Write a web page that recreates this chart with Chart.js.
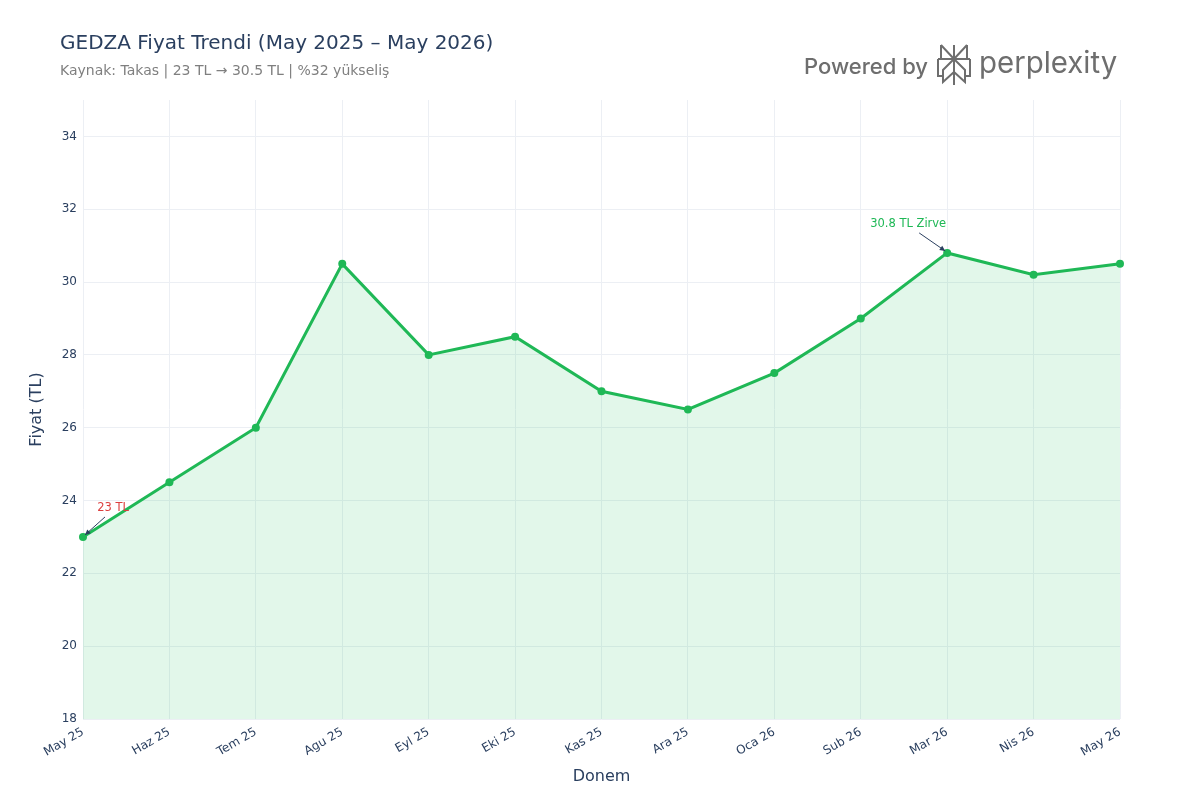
<!DOCTYPE html>
<html>
<head>
<meta charset="utf-8">
<script src="https://cdn.jsdelivr.net/npm/chart.js@4"></script>
<style>
html,body{margin:0;padding:0;background:#fff;}
#wrap{position:relative;width:1200px;height:800px;}
canvas{display:block;}
</style>
</head>
<body>
<div id="wrap"><canvas id="c" width="1200" height="800"></canvas></div>
<script>
const categories = ["May 25","Haz 25","Tem 25","Agu 25","Eyl 25","Eki 25","Kas 25","Ara 25","Oca 26","Sub 26","Mar 26","Nis 26","May 26"];
const prices = [23, 24.5, 26, 30.5, 28, 28.5, 27, 26.5, 27.5, 29, 30.8, 30.2, 30.5];
const yTicks = [18, 20, 22, 24, 26, 28, 30, 32, 34];
const titleText = "GEDZA Fiyat Trendi (May 2025 – May 2026)";
const subtitleText = "Kaynak: Takas | 23 TL → 30.5 TL | %32 yükseliş";
const annotations = [
  {index: 0, text: "23 TL", color: "#dc3f3f", dx: 30, dy: -29},
  {index: 10, text: "30.8 TL Zirve", color: "#1fb856", dx: -39, dy: -29}
];

const FONT = "'DejaVu Sans', 'Open Sans', sans-serif";
const TXT = "#2a3f5f";

function arrow(ctx, x1, y1, x2, y2, color) {
  ctx.save();
  ctx.strokeStyle = color; ctx.fillStyle = color; ctx.lineWidth = 1;
  ctx.beginPath(); ctx.moveTo(x1, y1); ctx.lineTo(x2, y2); ctx.stroke();
  const a = Math.atan2(y2 - y1, x2 - x1), L = 6, w = 0.45;
  ctx.beginPath();
  ctx.moveTo(x2, y2);
  ctx.lineTo(x2 - L * Math.cos(a - w), y2 - L * Math.sin(a - w));
  ctx.lineTo(x2 - L * Math.cos(a + w), y2 - L * Math.sin(a + w));
  ctx.closePath(); ctx.fill();
  ctx.restore();
}

function drawLogo(ctx) {
  ctx.save();
  const g = "#6e6e6e";
  ctx.fillStyle = g;
  ctx.textBaseline = "middle";
  ctx.font = "500 22px Inter, Roboto, sans-serif";
  ctx.textAlign = "left";
  ctx.fillText("Powered by", 804, 67);
  ctx.font = "400 30px Inter, Roboto, sans-serif";
  ctx.save();
  ctx.translate(979, 64);
  ctx.scale(0.98, 1);
  ctx.fillText("perplexity", 0, 0);
  ctx.restore();
  // icon
  ctx.strokeStyle = g; ctx.lineWidth = 2; ctx.lineJoin = "miter";
  const cx = 954, top = 45, mid = 59, bot = 85, l = 938, r = 970;
  ctx.beginPath();
  ctx.moveTo(cx, top); ctx.lineTo(cx, bot);
  ctx.moveTo(l + 3, top); ctx.lineTo(cx, mid);
  ctx.moveTo(r - 3, top); ctx.lineTo(cx, mid);
  ctx.moveTo(l + 3, top); ctx.lineTo(l + 3, mid);
  ctx.moveTo(r - 3, top); ctx.lineTo(r - 3, mid);
  ctx.moveTo(l, mid); ctx.lineTo(r, mid);
  ctx.moveTo(l, mid); ctx.lineTo(l, 76); ctx.lineTo(l + 5, 76);
  ctx.moveTo(r, mid); ctx.lineTo(r, 76); ctx.lineTo(r - 5, 76);
  ctx.moveTo(cx, mid); ctx.lineTo(l + 5, 70); ctx.lineTo(l + 5, 82); ctx.lineTo(cx, 72);
  ctx.moveTo(cx, mid); ctx.lineTo(r - 5, 70); ctx.lineTo(r - 5, 82); ctx.lineTo(cx, 72);
  ctx.stroke();
  ctx.restore();
}

const overlay = {
  id: "overlay",
  afterDraw(chart) {
    const ctx = chart.ctx, xs = chart.scales.x, ys = chart.scales.y, ca = chart.chartArea;
    ctx.save();
    ctx.textBaseline = "middle";
    ctx.textAlign = "left";
    ctx.fillStyle = TXT;
    ctx.font = "20px " + FONT;
    ctx.fillText(titleText, 60, 44);
    ctx.fillStyle = "#7f7f7f";
    ctx.font = "14px " + FONT;
    ctx.fillText(subtitleText, 60, 71);
    ctx.fillStyle = TXT;
    ctx.font = "16px " + FONT;
    ctx.textAlign = "center";
    ctx.fillText("Donem", (ca.left + ca.right) / 2, 777);
    ctx.save();
    ctx.translate(37, (ca.top + ca.bottom) / 2);
    ctx.rotate(-Math.PI / 2);
    ctx.fillText("Fiyat (TL)", 0, 0);
    ctx.restore();
    ctx.font = "11.5px " + FONT;
    annotations.forEach(a => {
      const px = xs.getPixelForValue(a.index), py = ys.getPixelForValue(prices[a.index]);
      const tx = px + a.dx, ty = py + a.dy;
      ctx.fillStyle = a.color;
      ctx.textAlign = "center";
      ctx.fillText(a.text, tx, ty);
      const sx = tx + (a.dx > 0 ? -8 : 11), sy = ty + 9;
      const ex = px + (a.dx > 0 ? 2 : -2), ey = py - 2;
      arrow(ctx, sx, sy, ex, ey, TXT);
    });
    ctx.restore();
    drawLogo(ctx);
  }
};

new Chart(document.getElementById("c"), {
  type: "line",
  data: {
    labels: categories,
    datasets: [{
      data: prices,
      borderColor: "#1fb856",
      backgroundColor: "rgba(34,197,94,0.13)",
      borderWidth: 3,
      fill: "start",
      tension: 0,
      pointRadius: 4,
      pointHoverRadius: 4,
      pointBackgroundColor: "#1fb856",
      pointBorderColor: "#1fb856",
      pointBorderWidth: 0,
      clip: false
    }]
  },
  options: {
    responsive: false,
    animation: false,
    events: [],
    layout: {padding: {left: 0, right: 80, top: 100, bottom: 0}},
    plugins: {legend: {display: false}, tooltip: {enabled: false}, title: {display: false}},
    scales: {
      x: {
        offset: false,
        afterFit(s) { s.height = 81; },
        grid: {color: "#eceff4", drawTicks: false, tickLength: 0},
        border: {display: false},
        ticks: {
          color: TXT, font: {family: FONT, size: 12},
          maxRotation: 30, minRotation: 30, padding: 6, autoSkip: false
        }
      },
      y: {
        min: 18, max: 35,
        afterFit(s) { s.width = 83; },
        afterBuildTicks(s) { s.ticks = yTicks.map(v => ({value: v})); },
        grid: {color: "#eceff4", drawTicks: false, tickLength: 0},
        border: {display: false},
        ticks: {color: TXT, font: {family: FONT, size: 12}, padding: 6, includeBounds: false}
      }
    }
  },
  plugins: [overlay]
});
</script>
</body>
</html>
